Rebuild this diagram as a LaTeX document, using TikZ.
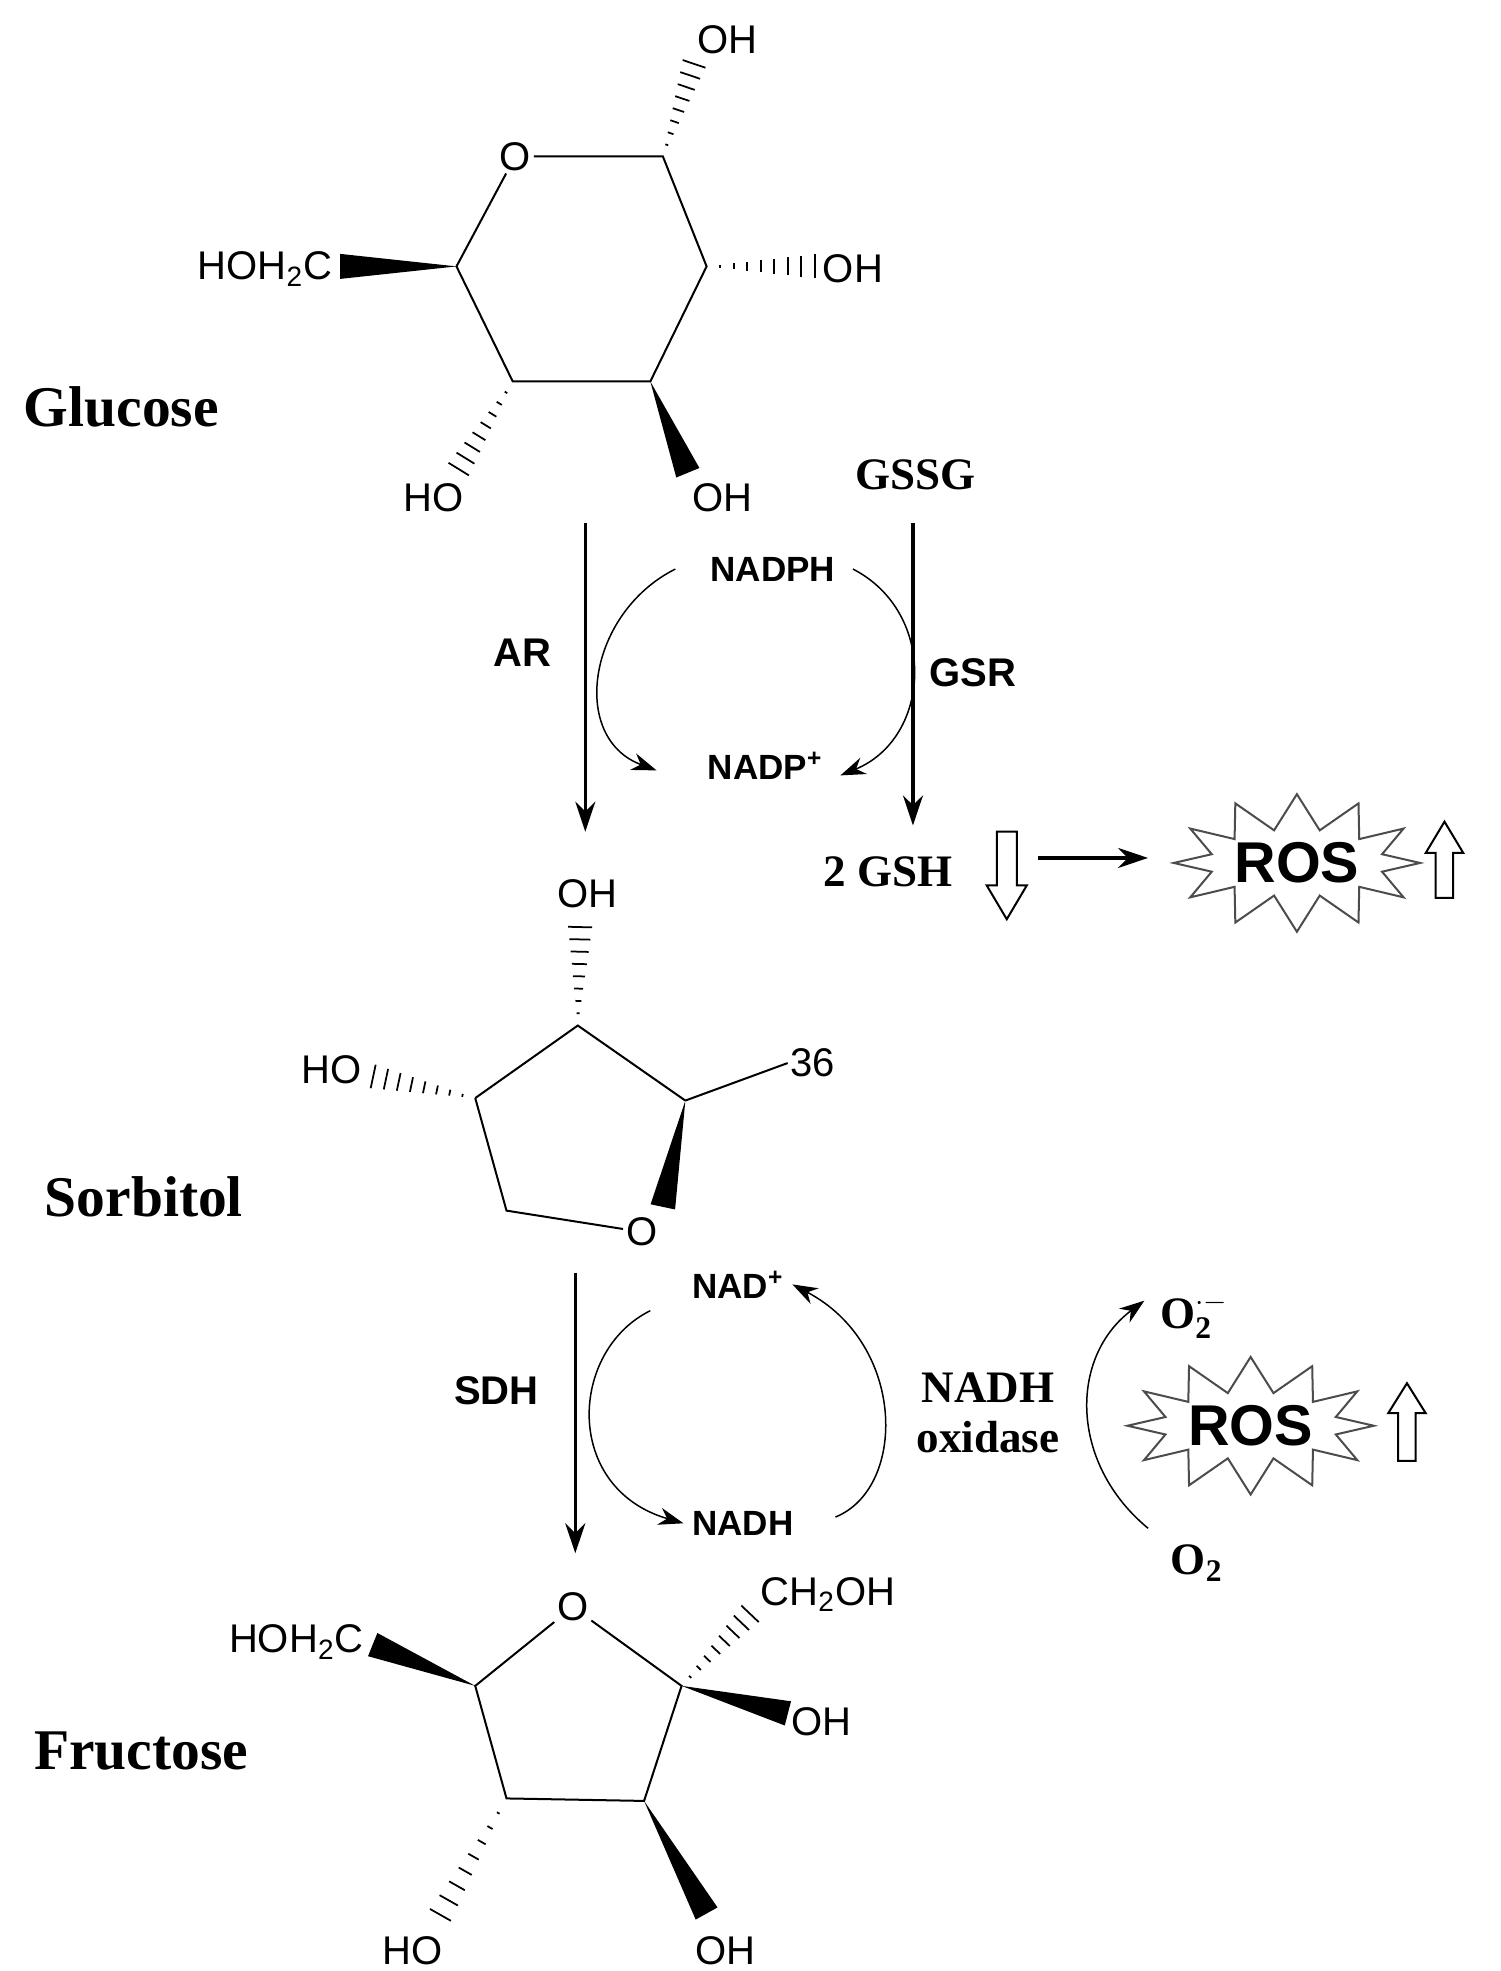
\documentclass[tikz,border=0pt]{standalone}
\usepackage{fontspec}
\setmainfont{Liberation Serif}
\setsansfont{Liberation Sans}
\usetikzlibrary{calc,shapes.symbols,arrows.meta}
\newcommand\wdg[2]{\fill ($(#1)$) -- ($(#2)!5pt!90:(#1)$) -- ($(#2)!5pt!-90:(#1)$) -- cycle;}
\newcommand\hsh[2]{\foreach \t in {0.12,0.24,...,1.0}{\coordinate (hp) at ($(#1)!\t!(#2)$);
 \draw[line width=0.7pt] ($(hp)!{\t*5pt}!90:(#1)$) -- ($(hp)!{\t*5pt}!-90:(#1)$);}}
\tikzset{
 chem/.style={font=\sffamily\fontsize{16}{16}\selectfont, inner sep=1pt},
 molname/.style={font=\bfseries\fontsize{23}{23}\selectfont},
 enz/.style={font=\sffamily\bfseries\fontsize{16}{16}\selectfont},
 cof/.style={font=\sffamily\bfseries\fontsize{14}{14}\selectfont},
 big/.style={font=\bfseries\fontsize{18}{18}\selectfont},
 bond/.style={line width=0.8pt},
 main/.style={line width=1.3pt,-{Stealth[length=12pt,width=8pt]}},
 cyc/.style={line width=0.6pt,-{Stealth[length=10pt,width=7pt]}},
 burst/.style={starburst, starburst points=12, starburst point height=14pt, random starburst=0,
   draw=black!70, line width=0.8pt, fill=white, minimum width=92pt, minimum height=55pt,
   font=\sffamily\bfseries\fontsize{23}{23}\selectfont, inner sep=0pt},
 hollow/.style={draw, line width=0.8pt, fill=white}
}
\begin{document}
\begin{tikzpicture}[x=0.5pt,y=-0.5pt]
\useasboundingbox (0,0) rectangle (1200,1576);
% Glucose
\node[chem] (gO) at (412,125) {O};
\coordinate (g1) at (530,125); \coordinate (g2) at (565,213); \coordinate (g3) at (520,305);
\coordinate (g4) at (410,305); \coordinate (g5) at (365,213);
\draw[bond] (gO) -- (g1) -- (g2) -- (g3) -- (g4) -- (g5) -- (gO);
\node[chem] (gOH1) at (582,32) {OH};
\node[chem] (gOH2) at (682,215) {OH};
\node[chem] (gCH) at (212,215) {HOH\textsubscript{2}C};
\node[chem] (gOH4) at (347,398) {HO};
\node[chem] (gOH3) at (578,398) {OH};
\coordinate (t1) at (556,48); \hsh{g1}{t1}
\coordinate (t2) at (655,213); \hsh{g2}{t2}
\coordinate (t5) at (272,213); \wdg{g5}{t5}
\coordinate (t4) at (365,378); \hsh{g4}{t4}
\coordinate (t3) at (550,378); \wdg{g3}{t3}
\node[molname] (glc) at (97,325) {Glucose};
% AR / GSR
\node[big] (gssg) at (732,380) {GSSG};
\coordinate (arA) at (468,418); \coordinate (arB) at (468,665);
\draw[main] (arA) -- (arB);
\coordinate (gsA) at (730,418); \coordinate (gsB) at (730,660);
\draw[main] (gsA) -- (gsB);
\node[enz] (ar) at (418,522) {AR};
\node[enz] (gsr) at (778,538) {GSR};
\node[cof] (nadph) at (618,455) {NADPH};
\node[cof] (nadp) at (612,612) {NADP\textsuperscript{+}};
\draw[cyc] (540,455) .. controls (470,490) and (455,590) .. (525,616);
\draw[cyc] (682,455) .. controls (750,490) and (745,590) .. (672,620);
\node[big] (gsh) at (710,697) {2 GSH};
\draw[hollow] (797,665) -- (813,665) -- (813,708) -- (821,708) -- (805,735) -- (789,708) -- (797,708) -- cycle;
\draw[main] (830,686) -- (918,686);
\node[burst] (ros1) at (1037,690) {ROS};
\draw[hollow] (1148,718) -- (1162,718) -- (1162,682) -- (1170,682) -- (1155,657) -- (1140,682) -- (1148,682) -- cycle;
% Sorbitol
\coordinate (s1) at (462,820); \coordinate (s2) at (548,880); \node[chem] (sO) at (513,985) {O};
\coordinate (s4) at (405,968); \coordinate (s5) at (380,878);
\draw[bond] (s5) -- (s1) -- (s2); \draw[bond] (sO) -- (s4) -- (s5);
\node[chem] (sOH) at (470,715) {OH};
\coordinate (u1) at (464,738); \hsh{s1}{u1}
\node[chem] (sHO) at (265,855) {HO};
\coordinate (u5) at (295,860); \hsh{s5}{u5}
\node[chem] (s36) at (650,850) {36};
\draw[bond] (s2) -- (s36.west);
\coordinate (u2) at (530,965); \wdg{s2}{u2}
\node[molname] (sor) at (115,957) {Sorbitol};
% SDH
\coordinate (sdA) at (460,1018); \coordinate (sdB) at (460,1242);
\draw[main] (sdA) -- (sdB);
\node[enz] (sdh) at (397,1112) {SDH};
\node[cof] (nad) at (590,1027) {NAD\textsuperscript{+}};
\node[cof] (nadh) at (594,1218) {NADH};
\draw[cyc] (520,1048) .. controls (455,1080) and (450,1190) .. (nadh.west);
\draw[cyc] (668,1213) .. controls (725,1190) and (725,1075) .. (nad.east);
\node[big, align=center] (nox) at (790,1130) {NADH\\[2pt]oxidase};
\node[big] (o2m) at (955,1052) {O$_{\mathbf{2}}^{\mathbf{\cdot-}}$};
\node[big] (o2) at (957,1250) {O$_{\mathbf{2}}$};
\draw[cyc] (918,1222) .. controls (855,1170) and (855,1085) .. (915,1040);
\node[burst] (ros2) at (1000,1140) {ROS};
\draw[hollow] (1118,1168) -- (1132,1168) -- (1132,1130) -- (1140,1130) -- (1125,1106) -- (1110,1130) -- (1118,1130) -- cycle;
% Fructose
\node[chem] (fO) at (458,1285) {O};
\coordinate (f1) at (545,1348); \coordinate (f2) at (515,1440); \coordinate (f3) at (405,1438); \coordinate (f4) at (380,1348);
\draw[bond] (fO) -- (f1) -- (f2) -- (f3) -- (f4) -- (fO);
\node[chem] (fCH) at (662,1275) {CH\textsubscript{2}OH};
\coordinate (v1) at (602,1288); \hsh{f1}{v1}
\node[chem] (fOH1) at (657,1377) {OH};
\coordinate (v2) at (630,1370); \wdg{f1}{v2}
\node[chem] (fCH2) at (237,1313) {HOH\textsubscript{2}C};
\coordinate (v4) at (298,1315); \wdg{f4}{v4}
\node[chem] (fHO) at (330,1560) {HO};
\coordinate (v3) at (350,1535); \hsh{f3}{v3}
\node[chem] (fOH2) at (580,1560) {OH};
\coordinate (v5) at (565,1530); \wdg{f2}{v5}
\node[molname] (fru) at (113,1400) {Fructose};
\end{tikzpicture}
\end{document}
